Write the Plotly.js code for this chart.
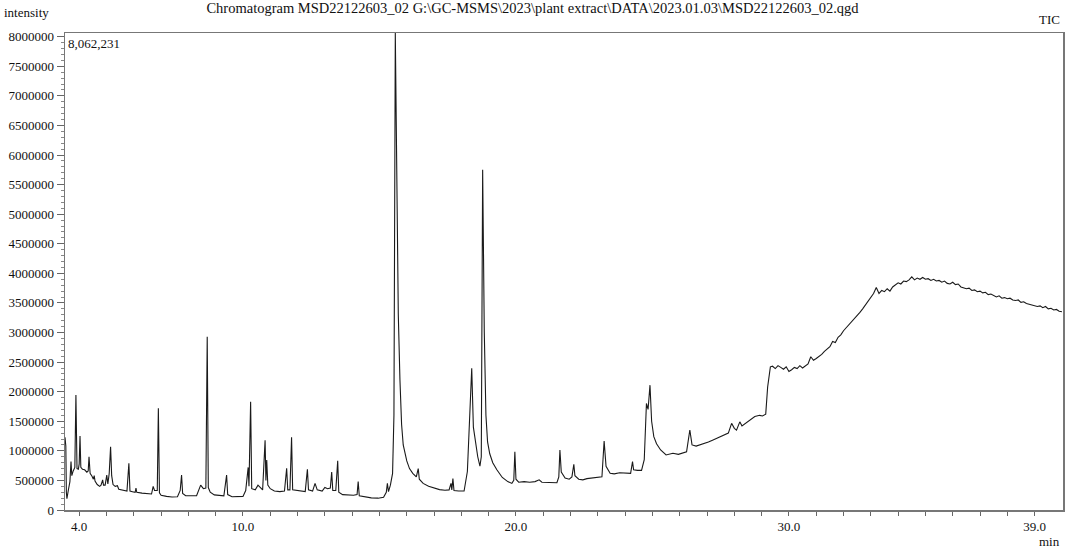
<!DOCTYPE html>
<html>
<head>
<meta charset="utf-8">
<script src="https://cdn.plot.ly/plotly-3.0.1.min.js"></script>
<style>html,body{margin:0;padding:0;background:#fff;}#chart{width:1065px;height:549px;}</style>
</head>
<body>
<div id="chart"></div>
<script>
// Retention time (min)
const retentionTime = [
3.48,3.51,3.53,3.55,3.60,3.66,3.70,3.73,3.78,3.84,3.88,3.92,3.97,4.00,4.03,4.06,4.12,4.20,4.28,4.33,4.36,4.40,4.47,4.52,4.55,4.58,4.66,4.75,4.80,4.86,4.89,4.95,5.01,5.05,5.10,5.15,5.19,5.24,5.32,5.40,5.45,5.60,5.75,5.82,5.86,5.95,6.05,6.08,6.11,6.30,6.50,6.65,6.71,6.76,6.86,6.90,6.94,7.00,7.20,7.40,7.60,7.70,7.75,7.79,7.90,8.10,8.30,8.45,8.55,8.64,8.69,8.73,8.80,8.95,9.10,9.30,9.40,9.44,9.60,9.80,10.00,10.10,10.19,10.22,10.28,10.32,10.45,10.55,10.62,10.72,10.81,10.84,10.87,10.91,11.00,11.15,11.35,11.52,11.60,11.64,11.72,11.78,11.82,11.95,12.10,12.28,12.36,12.40,12.55,12.64,12.72,12.90,13.00,13.10,13.20,13.25,13.29,13.40,13.47,13.51,13.65,13.85,14.05,14.18,14.22,14.26,14.45,14.70,14.95,15.15,15.25,15.29,15.33,15.40,15.48,15.53,15.58,15.63,15.69,15.75,15.81,15.87,15.93,16.00,16.10,16.22,16.35,16.42,16.46,16.60,16.80,17.00,17.20,17.40,17.55,17.62,17.65,17.69,17.73,17.90,18.10,18.22,18.30,18.38,18.44,18.52,18.60,18.68,18.73,18.78,18.84,18.90,18.96,19.04,19.15,19.30,19.50,19.70,19.85,19.92,19.96,20.00,20.10,20.30,20.50,20.70,20.85,20.95,21.10,21.30,21.50,21.57,21.61,21.66,21.80,21.95,22.05,22.12,22.16,22.30,22.45,22.60,22.80,23.00,23.15,23.23,23.30,23.45,23.60,23.80,24.00,24.20,24.27,24.31,24.45,24.60,24.70,24.78,24.84,24.91,24.97,25.05,25.15,25.30,25.50,25.75,25.95,26.25,26.37,26.45,26.60,26.85,27.05,27.20,27.45,27.65,27.78,27.90,28.00,28.08,28.20,28.28,28.50,28.75,28.93,29.03,29.15,29.22,29.32,
29.40,29.50,29.60,29.70,29.80,29.90,30.00,30.10,30.20,30.30,30.40,30.50,30.60,30.70,30.80,30.90,31.00,31.10,31.20,31.30,31.40,31.50,31.60,31.70,31.80,31.90,32.00,32.10,32.20,32.30,32.40,32.50,32.60,32.70,32.80,32.90,33.00,33.10,33.20,33.30,33.40,33.50,33.60,33.70,33.80,33.90,34.00,34.10,34.20,34.30,34.40,34.50,34.60,34.70,34.80,34.90,35.00,35.10,35.20,35.30,35.40,35.50,35.60,35.70,35.80,35.90,36.00,36.10,36.20,36.30,36.40,36.50,36.60,36.70,36.80,36.90,37.00,37.10,37.20,37.30,37.40,37.50,37.60,37.70,37.80,37.90,38.00,38.10,38.20,38.30,38.40,38.50,38.60,38.70,38.80,38.90,39.00,39.10,39.20,39.30,39.40,39.50,39.60,39.70,39.80,39.90,40.00
];
// TIC intensity
const intensity = [
1230000,1080000,300000,190000,330000,480000,820000,580000,660000,720000,1944000,700000,690000,780000,1250000,720000,690000,680000,640000,660000,900000,620000,570000,520000,580000,490000,430000,400000,420000,510000,420000,420000,590000,440000,620000,1070000,580000,430000,400000,410000,350000,340000,320000,790000,320000,310000,300000,370000,300000,285000,270000,270000,400000,330000,330000,1720000,290000,250000,230000,220000,225000,330000,590000,280000,240000,235000,240000,420000,360000,370000,2930000,380000,300000,255000,250000,240000,590000,260000,225000,225000,230000,330000,720000,400000,1830000,360000,340000,420000,380000,340000,1180000,500000,845000,420000,360000,320000,310000,320000,705000,340000,340000,1230000,340000,330000,320000,310000,690000,340000,320000,450000,340000,320000,380000,360000,370000,640000,330000,330000,830000,300000,260000,255000,250000,260000,480000,240000,225000,205000,200000,215000,300000,450000,310000,420000,620000,1600000,8062231,5400000,3300000,2200000,1450000,1100000,960000,830000,700000,620000,560000,700000,520000,450000,400000,370000,345000,335000,340000,450000,340000,530000,330000,320000,320000,650000,1400000,2395000,1400000,1150000,900000,740000,900000,5750000,3000000,1600000,1150000,950000,800000,680000,550000,480000,450000,500000,985000,520000,470000,480000,470000,480000,510000,470000,470000,470000,460000,560000,1014000,640000,540000,520000,560000,772000,580000,520000,510000,530000,540000,545000,560000,1166000,740000,620000,610000,630000,620000,620000,817000,680000,670000,670000,850000,1800000,1700000,2110000,1500000,1240000,1120000,1014000,930000,958000,940000,985000,1352000,1100000,1080000,1115000,1150000,1180000,1230000,1270000,1300000,1465000,1380000,1350000,1490000,1420000,1490000,1580000,1600000,1590000,1620000,2080000,2420000,
2430000,2390000,2440000,2410000,2380000,2420000,2340000,2370000,2410000,2390000,2440000,2400000,2430000,2470000,2590000,2530000,2560000,2590000,2630000,2680000,2720000,2760000,2850000,2830000,2920000,2960000,3030000,3080000,3140000,3180000,3230000,3280000,3340000,3400000,3460000,3520000,3590000,3660000,3760000,3660000,3710000,3690000,3740000,3700000,3770000,3800000,3840000,3820000,3870000,3860000,3890000,3940000,3890000,3920000,3900000,3930000,3900000,3910000,3880000,3900000,3870000,3880000,3850000,3870000,3830000,3820000,3850000,3810000,3820000,3770000,3760000,3740000,3750000,3710000,3720000,3690000,3700000,3670000,3680000,3640000,3650000,3620000,3600000,3620000,3580000,3590000,3570000,3580000,3550000,3540000,3550000,3510000,3520000,3490000,3480000,3470000,3460000,3440000,3450000,3420000,3440000,3400000,3410000,3380000,3390000,3360000,3350000
];
const xTickVals = [4,5,6,7,8,9,10,11,12,13,14,15,16,17,18,19,20,21,22,23,24,25,26,27,28,29,30,31,32,33,34,35,36,37,38,39];
const xTickText = ['4.0','','','','','','10.0','','','','','','','','','','20.0','','','','','','','','','','30.0','','','','','','','','','39.0'];
const yTickVals = [0,500000,1000000,1500000,2000000,2500000,3000000,3500000,4000000,4500000,5000000,5500000,6000000,6500000,7000000,7500000,8000000];
const yMax = 8062231;
const titleText = 'Chromatogram MSD22122603_02 G:\\GC-MSMS\\2023\\plant extract\\DATA\\2023.01.03\\MSD22122603_02.qgd';

const font = {family: 'Liberation Serif, Times New Roman, serif', size: 13, color: '#111'};

const trace = {
  x: retentionTime, y: intensity, type: 'scatter', mode: 'lines',
  line: {color: '#1a1a1a', width: 1.1}, hoverinfo: 'x+y'
};

const layout = {
  width: 1065, height: 549,
  margin: {l: 65, r: 2, t: 33, b: 39},
  paper_bgcolor: '#fff', plot_bgcolor: '#fff',
  font: font,
  showlegend: false,
  title: {text: titleText, x: 0.5, xref: 'container', xanchor: 'center', y: 0.986, yref: 'container', yanchor: 'middle', font: {family: font.family, size: 14.5, color: '#111'}},
  xaxis: {
    range: [3.48, 40.04], showgrid: false, zeroline: false,
    showline: true, linecolor: '#777', linewidth: 1.5, mirror: true,
    tickmode: 'array', tickvals: xTickVals, ticktext: xTickText,
    ticks: 'outside', ticklen: 4, tickcolor: '#666', tickwidth: 1,
    tickfont: font
  },
  yaxis: {
    range: [0, yMax], showgrid: false, zeroline: false,
    showline: true, linecolor: '#777', linewidth: 1.5, mirror: true,
    tickmode: 'array', tickvals: yTickVals, tickformat: 'd',
    ticks: 'outside', ticklen: 7, tickcolor: '#666', tickwidth: 1,
    minor: {dtick: 100000, tick0: 0, ticks: 'outside', ticklen: 3, tickcolor: '#888', showgrid: false},
    tickfont: font
  },
  annotations: [
    {text: 'intensity', xref: 'paper', yref: 'paper', x: -0.0631, y: 1.044, xanchor: 'left', yanchor: 'middle', showarrow: false, font: font},
    {text: 'TIC', xref: 'paper', yref: 'paper', x: 0.999, y: 1.029, xanchor: 'right', yanchor: 'middle', showarrow: false, font: font},
    {text: '8,062,231', xref: 'paper', yref: 'paper', x: 0.001, y: 0.977, xanchor: 'left', yanchor: 'middle', showarrow: false, font: font},
    {text: 'min', xref: 'paper', yref: 'paper', x: 0.999, y: -0.065, xanchor: 'right', yanchor: 'middle', showarrow: false, font: font}
  ]
};

Plotly.newPlot('chart', [trace], layout, {displayModeBar: false, staticPlot: true});
</script>
</body>
</html>
